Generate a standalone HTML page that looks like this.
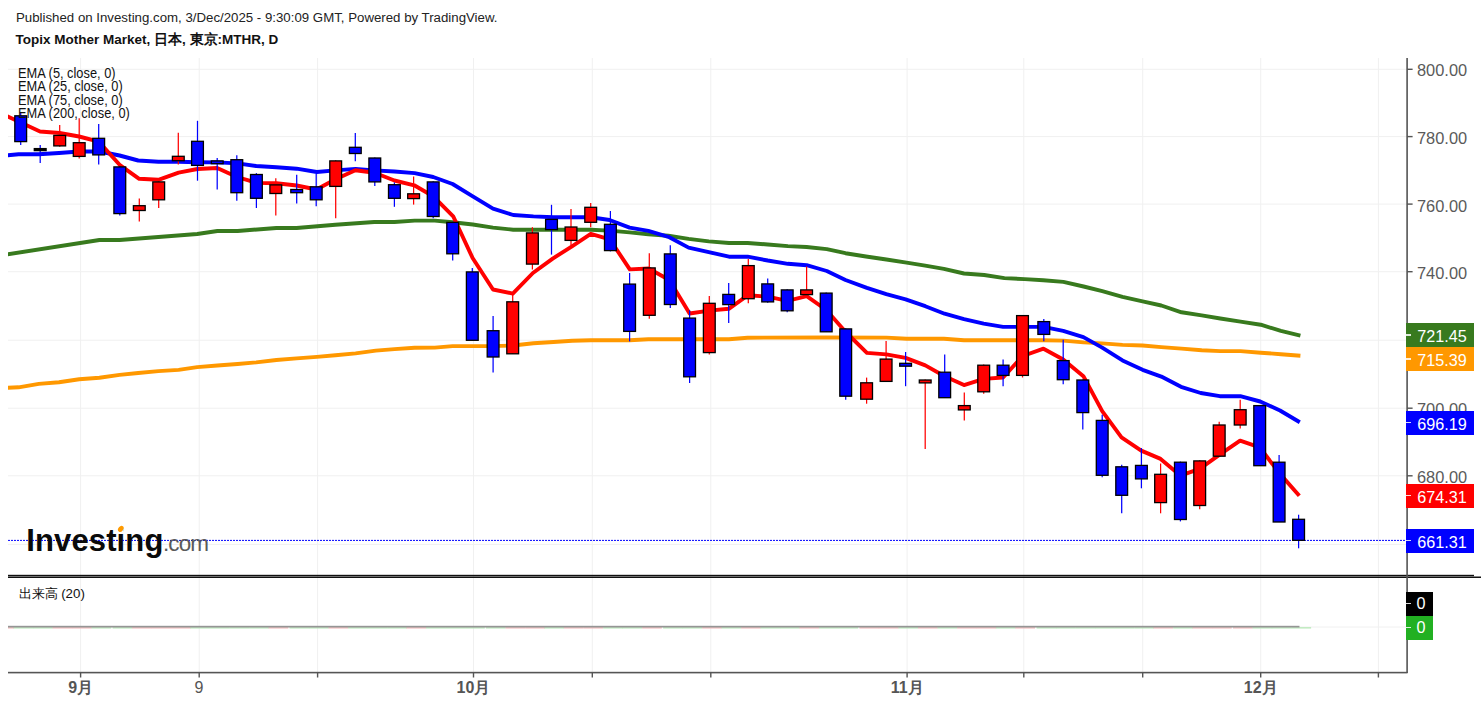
<!DOCTYPE html><html><head><meta charset="utf-8"><style>
html,body{margin:0;padding:0;background:#fff;width:1481px;height:705px;overflow:hidden;position:relative}
body{font-family:"Liberation Sans",sans-serif}
.t{position:absolute;white-space:nowrap;line-height:1}
.yl{position:absolute;left:1417px;font-size:16.4px;color:#5a5a5a;white-space:nowrap;line-height:1}
.box{position:absolute;left:1406px;width:68px;height:24px;color:#fff;font-size:16.2px;line-height:24px;white-space:nowrap}
.box span{position:absolute;left:11.2px;top:1px}
.box i{position:absolute;left:0;top:11.3px;width:5px;height:1.4px;background:#fff;opacity:.85}
.xl{position:absolute;font-size:16px;color:#555;font-weight:bold;line-height:1;white-space:nowrap}
</style></head><body>
<svg width="1481" height="705" viewBox="0 0 1481 705" style="position:absolute;left:0;top:0"><defs><clipPath id="cp"><rect x="8" y="58" width="1399" height="517"/></clipPath></defs><g stroke="#f0f0f0" stroke-width="1"><line x1="80.6" y1="58" x2="80.6" y2="672" /><line x1="199.2" y1="58" x2="199.2" y2="672" /><line x1="317.6" y1="58" x2="317.6" y2="672" /><line x1="473.5" y1="58" x2="473.5" y2="672" /><line x1="592.3" y1="58" x2="592.3" y2="672" /><line x1="710.8" y1="58" x2="710.8" y2="672" /><line x1="907.1" y1="58" x2="907.1" y2="672" /><line x1="1023.8" y1="58" x2="1023.8" y2="672" /><line x1="1142.7" y1="58" x2="1142.7" y2="672" /><line x1="1260.7" y1="58" x2="1260.7" y2="672" /><line x1="1378.4" y1="58" x2="1378.4" y2="672" /><line x1="8" y1="69.3" x2="1407" y2="69.3" /><line x1="8" y1="136.6" x2="1407" y2="136.6" /><line x1="8" y1="204.1" x2="1407" y2="204.1" /><line x1="8" y1="271.7" x2="1407" y2="271.7" /><line x1="8" y1="340.2" x2="1407" y2="340.2" /><line x1="8" y1="408.2" x2="1407" y2="408.2" /><line x1="8" y1="475.8" x2="1407" y2="475.8" /><line x1="8" y1="544.4" x2="1407" y2="544.4" /><line x1="8" y1="627" x2="1407" y2="627" /></g><g clip-path="url(#cp)"><polyline points="0.0,388.2 18.6,387.3 38.8,383.9 59.0,382.3 79.2,379.2 99.4,377.7 119.6,374.9 138.2,373.0 158.4,371.1 178.6,369.9 197.2,367.1 217.4,365.5 237.6,364.0 256.2,362.4 276.4,360.0 296.6,358.4 316.8,356.9 335.4,355.3 355.6,353.4 375.8,350.6 394.5,349.1 414.6,347.8 434.8,347.6 452.6,346.1 493.0,346.1 513.2,345.5 533.4,343.3 553.5,342.0 572.2,340.8 590.8,340.2 629.6,340.2 648.3,339.3 729.0,339.3 747.6,337.7 826.2,337.5 886.4,337.6 906.6,338.7 943.9,338.7 964.0,340.3 1043.3,340.3 1063.4,340.6 1083.6,342.4 1102.3,343.4 1122.5,344.9 1142.6,345.5 1161.3,347.1 1181.5,348.6 1201.7,350.2 1220.3,351.1 1240.5,351.1 1260.7,352.7 1280.9,354.2 1300.4,355.8" fill="none" stroke="#ff9800" stroke-width="3.9" stroke-linejoin="round"/><polyline points="0.0,255.5 99.4,240.0 119.6,240.0 197.2,234.0 217.4,231.0 237.6,231.0 276.4,228.0 296.6,228.0 335.4,224.8 374.2,222.0 394.4,222.0 414.6,220.6 434.8,220.6 452.6,222.2 472.8,224.5 493.0,227.6 513.2,229.7 553.5,229.7 590.8,229.7 609.5,230.6 629.6,232.4 648.3,234.3 668.4,235.8 688.6,238.9 708.8,241.4 729.0,243.0 747.6,243.0 767.8,244.5 787.9,246.1 806.6,247.0 826.8,249.1 845.5,253.2 866.0,256.5 886.4,259.5 906.6,262.6 925.2,265.7 943.9,268.8 964.0,273.5 984.2,275.0 1004.4,278.1 1024.6,279.1 1043.3,280.3 1063.4,281.9 1083.6,286.5 1102.3,291.2 1122.5,296.8 1142.6,301.4 1161.3,305.5 1181.5,312.3 1201.7,315.4 1220.3,318.5 1240.5,321.6 1260.7,324.7 1280.9,330.9 1300.4,335.6" fill="none" stroke="#387a1e" stroke-width="3.9" stroke-linejoin="round"/><polyline points="0.0,156.0 18.6,154.2 38.8,154.2 59.0,153.0 79.2,151.5 99.4,151.5 119.6,155.5 138.2,160.5 158.4,161.8 178.6,161.8 197.2,162.2 217.4,162.4 237.6,163.4 256.2,166.0 276.4,167.2 296.6,168.7 316.8,172.0 335.4,170.4 355.6,168.9 374.2,170.4 394.4,171.5 414.6,173.1 433.2,177.0 452.6,184.0 472.8,196.4 493.0,208.6 513.2,215.0 533.4,216.4 553.5,217.2 572.2,217.2 590.8,217.2 609.5,220.0 629.6,227.6 648.3,230.8 668.4,236.8 688.6,247.6 708.8,252.2 729.0,256.7 747.6,256.7 767.8,260.5 787.9,263.8 806.6,265.2 826.8,271.0 845.5,280.0 866.9,287.9 886.3,294.1 905.6,299.4 925.3,306.2 944.6,313.7 964.0,319.1 983.7,323.7 1003.1,326.9 1022.8,326.9 1043.5,326.9 1063.2,330.9 1083.4,337.1 1102.2,347.6 1122.5,360.4 1142.6,369.8 1161.3,376.6 1181.0,386.8 1200.7,393.0 1219.8,396.2 1240.3,396.2 1260.2,401.5 1280.0,410.5 1299.8,422.2" fill="none" stroke="#0000ff" stroke-width="3.9" stroke-linejoin="round"/><polyline points="0.0,113.0 20.7,122.5 40.0,131.5 59.6,133.0 79.1,136.5 98.7,141.6 119.6,164.8 139.2,178.8 158.4,179.8 178.6,172.6 197.4,169.0 217.2,168.0 237.0,177.0 257.0,182.9 276.4,183.2 296.6,185.5 316.5,189.5 335.5,179.3 355.4,170.3 374.6,172.8 394.4,180.5 414.2,185.3 433.1,196.2 453.2,216.3 472.6,258.0 493.0,289.5 512.8,293.6 532.9,273.0 552.7,258.6 572.0,246.3 590.8,233.8 609.8,239.3 629.8,269.4 648.7,268.5 669.3,280.0 689.6,313.5 709.2,310.6 728.8,308.8 748.0,295.2 767.7,296.7 787.4,300.8 806.7,296.2 826.3,310.0 845.7,332.0 866.9,352.9 886.3,354.4 905.6,357.9 925.3,365.4 944.6,376.2 964.0,385.1 983.7,378.9 1003.1,377.5 1022.8,356.0 1043.5,348.7 1063.2,359.5 1083.4,376.2 1102.2,411.2 1121.5,437.4 1141.2,450.6 1160.6,458.9 1180.3,475.6 1199.7,468.9 1219.3,454.9 1240.1,440.6 1259.7,447.3 1279.1,472.9 1299.3,495.8" fill="none" stroke="#ff0000" stroke-width="3.9" stroke-linejoin="round"/><line x1="8" y1="540.4" x2="1407" y2="540.4" stroke="#0000ff" stroke-width="1" stroke-dasharray="2,1"/><line x1="20.7" y1="113" x2="20.7" y2="145" stroke="#0000ff" stroke-width="1.25"/><rect x="14.8" y="115.8" width="11.8" height="25.8" fill="#0000ff" stroke="#000" stroke-width="1.3"/><line x1="40.2" y1="145" x2="40.2" y2="162.9" stroke="#0000ff" stroke-width="1.25"/><rect x="34.3" y="148.6" width="11.8" height="2.0" fill="#000" stroke="#000" stroke-width="1.3"/><line x1="59.7" y1="125.1" x2="59.7" y2="146.7" stroke="#ff0000" stroke-width="1.25"/><rect x="53.8" y="135.4" width="11.8" height="10.5" fill="#ff0000" stroke="#000" stroke-width="1.3"/><line x1="79.2" y1="118.3" x2="79.2" y2="158.6" stroke="#ff0000" stroke-width="1.25"/><rect x="73.3" y="142.7" width="11.8" height="13.7" fill="#ff0000" stroke="#000" stroke-width="1.3"/><line x1="98.7" y1="124.1" x2="98.7" y2="164.6" stroke="#0000ff" stroke-width="1.25"/><rect x="92.8" y="138.3" width="11.8" height="16.6" fill="#0000ff" stroke="#000" stroke-width="1.3"/><line x1="119.8" y1="166.3" x2="119.8" y2="215.6" stroke="#0000ff" stroke-width="1.25"/><rect x="113.9" y="166.9" width="11.8" height="46.7" fill="#0000ff" stroke="#000" stroke-width="1.3"/><line x1="139.3" y1="198.6" x2="139.3" y2="221.6" stroke="#ff0000" stroke-width="1.25"/><rect x="133.4" y="205.7" width="11.8" height="4.8" fill="#ff0000" stroke="#000" stroke-width="1.3"/><line x1="158.7" y1="181.3" x2="158.7" y2="208" stroke="#ff0000" stroke-width="1.25"/><rect x="152.8" y="181.9" width="11.8" height="17.9" fill="#ff0000" stroke="#000" stroke-width="1.3"/><line x1="178.3" y1="132.7" x2="178.3" y2="164.6" stroke="#ff0000" stroke-width="1.25"/><rect x="172.4" y="156.3" width="11.8" height="4.4" fill="#ff0000" stroke="#000" stroke-width="1.3"/><line x1="197.5" y1="120.8" x2="197.5" y2="180.7" stroke="#0000ff" stroke-width="1.25"/><rect x="191.6" y="141.3" width="11.8" height="24.1" fill="#0000ff" stroke="#000" stroke-width="1.3"/><line x1="217.2" y1="158.1" x2="217.2" y2="189.6" stroke="#0000ff" stroke-width="1.25"/><rect x="211.3" y="160.9" width="11.8" height="2.8" fill="#0000ff" stroke="#000" stroke-width="1.3"/><line x1="236.8" y1="155.2" x2="236.8" y2="200.7" stroke="#0000ff" stroke-width="1.25"/><rect x="230.9" y="159.7" width="11.8" height="33.0" fill="#0000ff" stroke="#000" stroke-width="1.3"/><line x1="256.4" y1="173.1" x2="256.4" y2="208" stroke="#0000ff" stroke-width="1.25"/><rect x="250.5" y="174.5" width="11.8" height="23.8" fill="#0000ff" stroke="#000" stroke-width="1.3"/><line x1="275.8" y1="178.2" x2="275.8" y2="215.6" stroke="#ff0000" stroke-width="1.25"/><rect x="269.9" y="184.9" width="11.8" height="8.6" fill="#ff0000" stroke="#000" stroke-width="1.3"/><line x1="296.7" y1="174.8" x2="296.7" y2="203.4" stroke="#0000ff" stroke-width="1.25"/><rect x="290.8" y="189.5" width="11.8" height="3.2" fill="#0000ff" stroke="#000" stroke-width="1.3"/><line x1="316.2" y1="173.9" x2="316.2" y2="206.3" stroke="#0000ff" stroke-width="1.25"/><rect x="310.3" y="186.8" width="11.8" height="13.0" fill="#0000ff" stroke="#000" stroke-width="1.3"/><line x1="335.7" y1="160.3" x2="335.7" y2="218.2" stroke="#ff0000" stroke-width="1.25"/><rect x="329.8" y="160.9" width="11.8" height="25.5" fill="#ff0000" stroke="#000" stroke-width="1.3"/><line x1="355.3" y1="133.1" x2="355.3" y2="161.2" stroke="#0000ff" stroke-width="1.25"/><rect x="349.4" y="147.3" width="11.8" height="6.2" fill="#0000ff" stroke="#000" stroke-width="1.3"/><line x1="374.8" y1="157.4" x2="374.8" y2="185.9" stroke="#0000ff" stroke-width="1.25"/><rect x="368.9" y="158.0" width="11.8" height="23.9" fill="#0000ff" stroke="#000" stroke-width="1.3"/><line x1="394.4" y1="182.4" x2="394.4" y2="206.8" stroke="#0000ff" stroke-width="1.25"/><rect x="388.5" y="184.7" width="11.8" height="13.6" fill="#0000ff" stroke="#000" stroke-width="1.3"/><line x1="413.6" y1="176.5" x2="413.6" y2="204.6" stroke="#ff0000" stroke-width="1.25"/><rect x="407.7" y="193.8" width="11.8" height="4.8" fill="#ff0000" stroke="#000" stroke-width="1.3"/><line x1="433.2" y1="181.3" x2="433.2" y2="218.2" stroke="#0000ff" stroke-width="1.25"/><rect x="427.3" y="181.9" width="11.8" height="34.6" fill="#0000ff" stroke="#000" stroke-width="1.3"/><line x1="452.7" y1="221.8" x2="452.7" y2="260.6" stroke="#0000ff" stroke-width="1.25"/><rect x="446.8" y="222.4" width="11.8" height="31.4" fill="#0000ff" stroke="#000" stroke-width="1.3"/><line x1="472.3" y1="268.1" x2="472.3" y2="340.3" stroke="#0000ff" stroke-width="1.25"/><rect x="466.4" y="271.9" width="11.8" height="68.4" fill="#0000ff" stroke="#000" stroke-width="1.3"/><line x1="493.1" y1="316.1" x2="493.1" y2="372.6" stroke="#0000ff" stroke-width="1.25"/><rect x="487.2" y="330.7" width="11.8" height="26.3" fill="#0000ff" stroke="#000" stroke-width="1.3"/><line x1="512.7" y1="293.7" x2="512.7" y2="353.8" stroke="#ff0000" stroke-width="1.25"/><rect x="506.8" y="301.8" width="11.8" height="52.0" fill="#ff0000" stroke="#000" stroke-width="1.3"/><line x1="532.4" y1="227.2" x2="532.4" y2="269.5" stroke="#ff0000" stroke-width="1.25"/><rect x="526.5" y="232.9" width="11.8" height="31.2" fill="#ff0000" stroke="#000" stroke-width="1.3"/><line x1="551.5" y1="204.8" x2="551.5" y2="254.6" stroke="#0000ff" stroke-width="1.25"/><rect x="545.6" y="219.4" width="11.8" height="10.2" fill="#0000ff" stroke="#000" stroke-width="1.3"/><line x1="571.0" y1="208.9" x2="571.0" y2="245.2" stroke="#ff0000" stroke-width="1.25"/><rect x="565.1" y="227.0" width="11.8" height="13.4" fill="#ff0000" stroke="#000" stroke-width="1.3"/><line x1="590.7" y1="202.9" x2="590.7" y2="227.2" stroke="#ff0000" stroke-width="1.25"/><rect x="584.8" y="207.3" width="11.8" height="15.0" fill="#ff0000" stroke="#000" stroke-width="1.3"/><line x1="610.4" y1="211" x2="610.4" y2="251.4" stroke="#0000ff" stroke-width="1.25"/><rect x="604.5" y="224.3" width="11.8" height="26.3" fill="#0000ff" stroke="#000" stroke-width="1.3"/><line x1="629.6" y1="273" x2="629.6" y2="341.4" stroke="#0000ff" stroke-width="1.25"/><rect x="623.7" y="284.1" width="11.8" height="47.3" fill="#0000ff" stroke="#000" stroke-width="1.3"/><line x1="649.3" y1="253.3" x2="649.3" y2="318.8" stroke="#ff0000" stroke-width="1.25"/><rect x="643.4" y="267.9" width="11.8" height="47.4" fill="#ff0000" stroke="#000" stroke-width="1.3"/><line x1="670.3" y1="245.2" x2="670.3" y2="308" stroke="#0000ff" stroke-width="1.25"/><rect x="664.4" y="253.9" width="11.8" height="50.6" fill="#0000ff" stroke="#000" stroke-width="1.3"/><line x1="689.6" y1="310.3" x2="689.6" y2="383" stroke="#0000ff" stroke-width="1.25"/><rect x="683.7" y="318.1" width="11.8" height="58.7" fill="#0000ff" stroke="#000" stroke-width="1.3"/><line x1="709.3" y1="296" x2="709.3" y2="354.4" stroke="#ff0000" stroke-width="1.25"/><rect x="703.4" y="303.3" width="11.8" height="49.3" fill="#ff0000" stroke="#000" stroke-width="1.3"/><line x1="728.7" y1="283.1" x2="728.7" y2="322.9" stroke="#0000ff" stroke-width="1.25"/><rect x="722.8" y="294.4" width="11.8" height="10.2" fill="#0000ff" stroke="#000" stroke-width="1.3"/><line x1="748.3" y1="259.1" x2="748.3" y2="303.3" stroke="#ff0000" stroke-width="1.25"/><rect x="742.4" y="265.6" width="11.8" height="33.1" fill="#ff0000" stroke="#000" stroke-width="1.3"/><line x1="767.7" y1="278.5" x2="767.7" y2="302.7" stroke="#0000ff" stroke-width="1.25"/><rect x="761.8" y="283.9" width="11.8" height="18.0" fill="#0000ff" stroke="#000" stroke-width="1.3"/><line x1="787.2" y1="289.3" x2="787.2" y2="312.2" stroke="#0000ff" stroke-width="1.25"/><rect x="781.3" y="289.9" width="11.8" height="20.9" fill="#0000ff" stroke="#000" stroke-width="1.3"/><line x1="806.6" y1="266.4" x2="806.6" y2="294.6" stroke="#ff0000" stroke-width="1.25"/><rect x="800.7" y="289.9" width="11.8" height="4.7" fill="#ff0000" stroke="#000" stroke-width="1.3"/><line x1="826.2" y1="292.5" x2="826.2" y2="331.8" stroke="#0000ff" stroke-width="1.25"/><rect x="820.3" y="293.1" width="11.8" height="38.7" fill="#0000ff" stroke="#000" stroke-width="1.3"/><line x1="845.7" y1="328.3" x2="845.7" y2="399.7" stroke="#0000ff" stroke-width="1.25"/><rect x="839.8" y="328.9" width="11.8" height="67.3" fill="#0000ff" stroke="#000" stroke-width="1.3"/><line x1="866.6" y1="377.6" x2="866.6" y2="403.7" stroke="#ff0000" stroke-width="1.25"/><rect x="860.7" y="382.8" width="11.8" height="16.4" fill="#ff0000" stroke="#000" stroke-width="1.3"/><line x1="886.1" y1="341" x2="886.1" y2="381.4" stroke="#ff0000" stroke-width="1.25"/><rect x="880.2" y="359.1" width="11.8" height="22.3" fill="#ff0000" stroke="#000" stroke-width="1.3"/><line x1="905.6" y1="352" x2="905.6" y2="386.2" stroke="#0000ff" stroke-width="1.25"/><rect x="899.7" y="363.3" width="11.8" height="2.9" fill="#0000ff" stroke="#000" stroke-width="1.3"/><line x1="925.2" y1="379.4" x2="925.2" y2="448.9" stroke="#ff0000" stroke-width="1.25"/><rect x="919.3" y="380.0" width="11.8" height="2.9" fill="#ff0000" stroke="#000" stroke-width="1.3"/><line x1="944.7" y1="354.6" x2="944.7" y2="397.7" stroke="#0000ff" stroke-width="1.25"/><rect x="938.8" y="372.2" width="11.8" height="25.5" fill="#0000ff" stroke="#000" stroke-width="1.3"/><line x1="964.3" y1="392.4" x2="964.3" y2="420.6" stroke="#ff0000" stroke-width="1.25"/><rect x="958.4" y="405.6" width="11.8" height="4.3" fill="#ff0000" stroke="#000" stroke-width="1.3"/><line x1="983.7" y1="364.6" x2="983.7" y2="393.7" stroke="#ff0000" stroke-width="1.25"/><rect x="977.8" y="365.2" width="11.8" height="26.6" fill="#ff0000" stroke="#000" stroke-width="1.3"/><line x1="1003.1" y1="359.5" x2="1003.1" y2="386.2" stroke="#0000ff" stroke-width="1.25"/><rect x="997.2" y="365.2" width="11.8" height="10.2" fill="#0000ff" stroke="#000" stroke-width="1.3"/><line x1="1022.5" y1="315" x2="1022.5" y2="377.5" stroke="#ff0000" stroke-width="1.25"/><rect x="1016.6" y="315.6" width="11.8" height="59.8" fill="#ff0000" stroke="#000" stroke-width="1.3"/><line x1="1043.8" y1="319.1" x2="1043.8" y2="341.2" stroke="#0000ff" stroke-width="1.25"/><rect x="1037.9" y="321.6" width="11.8" height="12.8" fill="#0000ff" stroke="#000" stroke-width="1.3"/><line x1="1063.2" y1="339.8" x2="1063.2" y2="384.3" stroke="#0000ff" stroke-width="1.25"/><rect x="1057.3" y="360.6" width="11.8" height="19.1" fill="#0000ff" stroke="#000" stroke-width="1.3"/><line x1="1082.8" y1="379.4" x2="1082.8" y2="429.5" stroke="#0000ff" stroke-width="1.25"/><rect x="1076.9" y="380.0" width="11.8" height="32.6" fill="#0000ff" stroke="#000" stroke-width="1.3"/><line x1="1102.2" y1="414.7" x2="1102.2" y2="477.2" stroke="#0000ff" stroke-width="1.25"/><rect x="1096.3" y="420.4" width="11.8" height="54.9" fill="#0000ff" stroke="#000" stroke-width="1.3"/><line x1="1121.7" y1="464.8" x2="1121.7" y2="513.3" stroke="#0000ff" stroke-width="1.25"/><rect x="1115.8" y="466.8" width="11.8" height="28.5" fill="#0000ff" stroke="#000" stroke-width="1.3"/><line x1="1141.4" y1="448.1" x2="1141.4" y2="488.3" stroke="#0000ff" stroke-width="1.25"/><rect x="1135.5" y="465.4" width="11.8" height="13.5" fill="#0000ff" stroke="#000" stroke-width="1.3"/><line x1="1160.6" y1="463.5" x2="1160.6" y2="513.3" stroke="#ff0000" stroke-width="1.25"/><rect x="1154.7" y="474.3" width="11.8" height="28.3" fill="#ff0000" stroke="#000" stroke-width="1.3"/><line x1="1180.4" y1="461.6" x2="1180.4" y2="521.4" stroke="#0000ff" stroke-width="1.25"/><rect x="1174.5" y="462.2" width="11.8" height="57.3" fill="#0000ff" stroke="#000" stroke-width="1.3"/><line x1="1199.7" y1="460.3" x2="1199.7" y2="509.3" stroke="#ff0000" stroke-width="1.25"/><rect x="1193.8" y="460.9" width="11.8" height="44.6" fill="#ff0000" stroke="#000" stroke-width="1.3"/><line x1="1219.2" y1="421.8" x2="1219.2" y2="456.2" stroke="#ff0000" stroke-width="1.25"/><rect x="1213.3" y="425.0" width="11.8" height="31.2" fill="#ff0000" stroke="#000" stroke-width="1.3"/><line x1="1240.2" y1="399.7" x2="1240.2" y2="428.5" stroke="#ff0000" stroke-width="1.25"/><rect x="1234.3" y="409.7" width="11.8" height="15.3" fill="#ff0000" stroke="#000" stroke-width="1.3"/><line x1="1259.7" y1="405" x2="1259.7" y2="465.7" stroke="#0000ff" stroke-width="1.25"/><rect x="1253.8" y="405.6" width="11.8" height="60.1" fill="#0000ff" stroke="#000" stroke-width="1.3"/><line x1="1279.1" y1="454.9" x2="1279.1" y2="522" stroke="#0000ff" stroke-width="1.25"/><rect x="1273.2" y="462.2" width="11.8" height="59.8" fill="#0000ff" stroke="#000" stroke-width="1.3"/><line x1="1298.6" y1="514.7" x2="1298.6" y2="548.3" stroke="#0000ff" stroke-width="1.25"/><rect x="1292.7" y="519.3" width="11.8" height="21.0" fill="#0000ff" stroke="#000" stroke-width="1.3"/></g><rect x="8" y="574.8" width="1466" height="1.4" fill="#111"/><rect x="8" y="576.5" width="1473" height="1.5" fill="#111"/><rect x="1406.3" y="58" width="1.6" height="615" fill="#555555"/><rect x="8" y="671.8" width="1399.5" height="1.6" fill="#555555"/><rect x="79.9" y="672" width="1.4" height="5.5" fill="#555555"/><rect x="198.5" y="672" width="1.4" height="5.5" fill="#555555"/><rect x="316.9" y="672" width="1.4" height="5.5" fill="#555555"/><rect x="472.8" y="672" width="1.4" height="5.5" fill="#555555"/><rect x="591.6" y="672" width="1.4" height="5.5" fill="#555555"/><rect x="710.1" y="672" width="1.4" height="5.5" fill="#555555"/><rect x="906.4" y="672" width="1.4" height="5.5" fill="#555555"/><rect x="1023.1" y="672" width="1.4" height="5.5" fill="#555555"/><rect x="1142.0" y="672" width="1.4" height="5.5" fill="#555555"/><rect x="1260.0" y="672" width="1.4" height="5.5" fill="#555555"/><rect x="1377.7" y="672" width="1.4" height="5.5" fill="#555555"/><rect x="1407" y="68.6" width="5.6" height="1.4" fill="#555555"/><rect x="1407" y="135.9" width="5.6" height="1.4" fill="#555555"/><rect x="1407" y="203.4" width="5.6" height="1.4" fill="#555555"/><rect x="1407" y="271.0" width="5.6" height="1.4" fill="#555555"/><rect x="1407" y="339.5" width="5.6" height="1.4" fill="#555555"/><rect x="1407" y="407.5" width="5.6" height="1.4" fill="#555555"/><rect x="1407" y="475.1" width="5.6" height="1.4" fill="#555555"/><rect x="8" y="627.2" width="6" height="1.3" fill="#f2b6b6"/><rect x="13.50" y="627.2" width="19.7" height="1.3" fill="#b6e8b6"/><rect x="33.00" y="627.2" width="19.7" height="1.3" fill="#b6e8b6"/><rect x="52.50" y="627.2" width="19.7" height="1.3" fill="#f2b6b6"/><rect x="72.00" y="627.2" width="19.7" height="1.3" fill="#f2b6b6"/><rect x="91.50" y="627.2" width="19.7" height="1.3" fill="#b6e8b6"/><rect x="112.60" y="627.2" width="19.7" height="1.3" fill="#b6e8b6"/><rect x="132.10" y="627.2" width="19.7" height="1.3" fill="#f2b6b6"/><rect x="151.50" y="627.2" width="19.7" height="1.3" fill="#f2b6b6"/><rect x="171.10" y="627.2" width="19.7" height="1.3" fill="#f2b6b6"/><rect x="190.30" y="627.2" width="19.7" height="1.3" fill="#b6e8b6"/><rect x="210.00" y="627.2" width="19.7" height="1.3" fill="#b6e8b6"/><rect x="229.60" y="627.2" width="19.7" height="1.3" fill="#b6e8b6"/><rect x="249.20" y="627.2" width="19.7" height="1.3" fill="#b6e8b6"/><rect x="268.60" y="627.2" width="19.7" height="1.3" fill="#f2b6b6"/><rect x="289.50" y="627.2" width="19.7" height="1.3" fill="#b6e8b6"/><rect x="309.00" y="627.2" width="19.7" height="1.3" fill="#b6e8b6"/><rect x="328.50" y="627.2" width="19.7" height="1.3" fill="#f2b6b6"/><rect x="348.10" y="627.2" width="19.7" height="1.3" fill="#b6e8b6"/><rect x="367.60" y="627.2" width="19.7" height="1.3" fill="#b6e8b6"/><rect x="387.20" y="627.2" width="19.7" height="1.3" fill="#b6e8b6"/><rect x="406.40" y="627.2" width="19.7" height="1.3" fill="#f2b6b6"/><rect x="426.00" y="627.2" width="19.7" height="1.3" fill="#b6e8b6"/><rect x="445.50" y="627.2" width="19.7" height="1.3" fill="#b6e8b6"/><rect x="465.10" y="627.2" width="19.7" height="1.3" fill="#b6e8b6"/><rect x="485.90" y="627.2" width="19.7" height="1.3" fill="#b6e8b6"/><rect x="505.50" y="627.2" width="19.7" height="1.3" fill="#f2b6b6"/><rect x="525.20" y="627.2" width="19.7" height="1.3" fill="#f2b6b6"/><rect x="544.30" y="627.2" width="19.7" height="1.3" fill="#b6e8b6"/><rect x="563.80" y="627.2" width="19.7" height="1.3" fill="#f2b6b6"/><rect x="583.50" y="627.2" width="19.7" height="1.3" fill="#f2b6b6"/><rect x="603.20" y="627.2" width="19.7" height="1.3" fill="#b6e8b6"/><rect x="622.40" y="627.2" width="19.7" height="1.3" fill="#b6e8b6"/><rect x="642.10" y="627.2" width="19.7" height="1.3" fill="#f2b6b6"/><rect x="663.10" y="627.2" width="19.7" height="1.3" fill="#b6e8b6"/><rect x="682.40" y="627.2" width="19.7" height="1.3" fill="#b6e8b6"/><rect x="702.10" y="627.2" width="19.7" height="1.3" fill="#f2b6b6"/><rect x="721.50" y="627.2" width="19.7" height="1.3" fill="#b6e8b6"/><rect x="741.10" y="627.2" width="19.7" height="1.3" fill="#f2b6b6"/><rect x="760.50" y="627.2" width="19.7" height="1.3" fill="#b6e8b6"/><rect x="780.00" y="627.2" width="19.7" height="1.3" fill="#b6e8b6"/><rect x="799.40" y="627.2" width="19.7" height="1.3" fill="#f2b6b6"/><rect x="819.00" y="627.2" width="19.7" height="1.3" fill="#b6e8b6"/><rect x="838.50" y="627.2" width="19.7" height="1.3" fill="#b6e8b6"/><rect x="859.40" y="627.2" width="19.7" height="1.3" fill="#f2b6b6"/><rect x="878.90" y="627.2" width="19.7" height="1.3" fill="#f2b6b6"/><rect x="898.40" y="627.2" width="19.7" height="1.3" fill="#b6e8b6"/><rect x="918.00" y="627.2" width="19.7" height="1.3" fill="#f2b6b6"/><rect x="937.50" y="627.2" width="19.7" height="1.3" fill="#b6e8b6"/><rect x="957.10" y="627.2" width="19.7" height="1.3" fill="#f2b6b6"/><rect x="976.50" y="627.2" width="19.7" height="1.3" fill="#f2b6b6"/><rect x="995.90" y="627.2" width="19.7" height="1.3" fill="#b6e8b6"/><rect x="1015.30" y="627.2" width="19.7" height="1.3" fill="#f2b6b6"/><rect x="1036.60" y="627.2" width="19.7" height="1.3" fill="#b6e8b6"/><rect x="1056.00" y="627.2" width="19.7" height="1.3" fill="#b6e8b6"/><rect x="1075.60" y="627.2" width="19.7" height="1.3" fill="#b6e8b6"/><rect x="1095.00" y="627.2" width="19.7" height="1.3" fill="#b6e8b6"/><rect x="1114.50" y="627.2" width="19.7" height="1.3" fill="#b6e8b6"/><rect x="1134.20" y="627.2" width="19.7" height="1.3" fill="#b6e8b6"/><rect x="1153.40" y="627.2" width="19.7" height="1.3" fill="#f2b6b6"/><rect x="1173.20" y="627.2" width="19.7" height="1.3" fill="#b6e8b6"/><rect x="1192.50" y="627.2" width="19.7" height="1.3" fill="#f2b6b6"/><rect x="1212.00" y="627.2" width="19.7" height="1.3" fill="#f2b6b6"/><rect x="1233.00" y="627.2" width="19.7" height="1.3" fill="#f2b6b6"/><rect x="1252.50" y="627.2" width="19.7" height="1.3" fill="#b6e8b6"/><rect x="1271.90" y="627.2" width="19.7" height="1.3" fill="#b6e8b6"/><rect x="1291.40" y="627.2" width="19.7" height="1.3" fill="#b6e8b6"/><rect x="8" y="625.8" width="1291.5" height="1.7" fill="#959595"/></svg>
<div class="t" style="left:16px;top:10.6px;font-size:13.25px;color:#222">Published on Investing.com, 3/Dec/2025 - 9:30:09 GMT, Powered by TradingView.</div>
<div class="t" style="left:15.5px;top:33px;font-size:13.5px;font-weight:bold;color:#111">Topix Mother Market, 日本, 東京:MTHR, D</div>
<div class="t" style="left:17.7px;top:65.70px;font-size:14px;transform:scaleX(0.915);transform-origin:0 0;color:#111">EMA (5, close, 0)</div>
<div class="t" style="left:17.7px;top:79.20px;font-size:14px;transform:scaleX(0.915);transform-origin:0 0;color:#111">EMA (25, close, 0)</div>
<div class="t" style="left:17.7px;top:92.70px;font-size:14px;transform:scaleX(0.915);transform-origin:0 0;color:#111">EMA (75, close, 0)</div>
<div class="t" style="left:17.7px;top:106.20px;font-size:14px;transform:scaleX(0.915);transform-origin:0 0;color:#111">EMA (200, close, 0)</div>
<div class="yl" style="top:62.1px">800.00</div>
<div class="yl" style="top:130.1px">780.00</div>
<div class="yl" style="top:197.6px">760.00</div>
<div class="yl" style="top:265.4px">740.00</div>
<div class="yl" style="top:333.4px">720.00</div>
<div class="yl" style="top:401.4px">700.00</div>
<div class="yl" style="top:469.1px">680.00</div>
<div class="box" style="top:323.2px;background:#387a1e"><i></i><span>721.45</span></div>
<div class="box" style="top:347.2px;background:#ff9800"><i></i><span>715.39</span></div>
<div class="box" style="top:410.5px;background:#0000ff"><i></i><span>696.19</span></div>
<div class="box" style="top:483.5px;background:#ff0000"><i></i><span>674.31</span></div>
<div class="box" style="top:528.5px;background:#0000ff"><i></i><span>661.31</span></div>
<div class="box" style="top:591.5px;width:27px;background:#000"><i></i><span style="left:10.5px;top:-0.5px">0</span></div>
<div class="box" style="top:615.5px;width:27px;background:#22b022"><i></i><span style="left:10.5px;top:-0.5px">0</span></div>
<div class="t" style="left:18.5px;top:586.5px;font-size:13.3px;color:#111">出来高 (20)</div>
<div class="xl" style="left:20.700000000000003px;width:120px;text-align:center;top:680px;font-weight:bold">9月</div>
<div class="xl" style="left:139.0px;width:120px;text-align:center;top:680px;font-weight:normal">9</div>
<div class="xl" style="left:413.5px;width:120px;text-align:center;top:680px;font-weight:bold">10月</div>
<div class="xl" style="left:847.1px;width:120px;text-align:center;top:680px;font-weight:bold">11月</div>
<div class="xl" style="left:1200.7px;width:120px;text-align:center;top:680px;font-weight:bold">12月</div>
<div class="t" style="left:26.3px;top:524.5px;font-size:31px;font-weight:bold;letter-spacing:0.12px;color:#0a0a0a">Investing<span style="font-size:22.5px;font-weight:normal;color:#5a5a5a;letter-spacing:-0.9px;margin-left:-0.5px">.com</span></div>
<svg width="1481" height="705" style="position:absolute;left:0;top:0"><rect x="117.3" y="527.3" width="5.8" height="5.4" fill="#fff"/><ellipse cx="120.8" cy="528.9" rx="2.4" ry="3.3" transform="rotate(40 120.8 528.9)" fill="#ff9a00"/></svg>
</body></html>
